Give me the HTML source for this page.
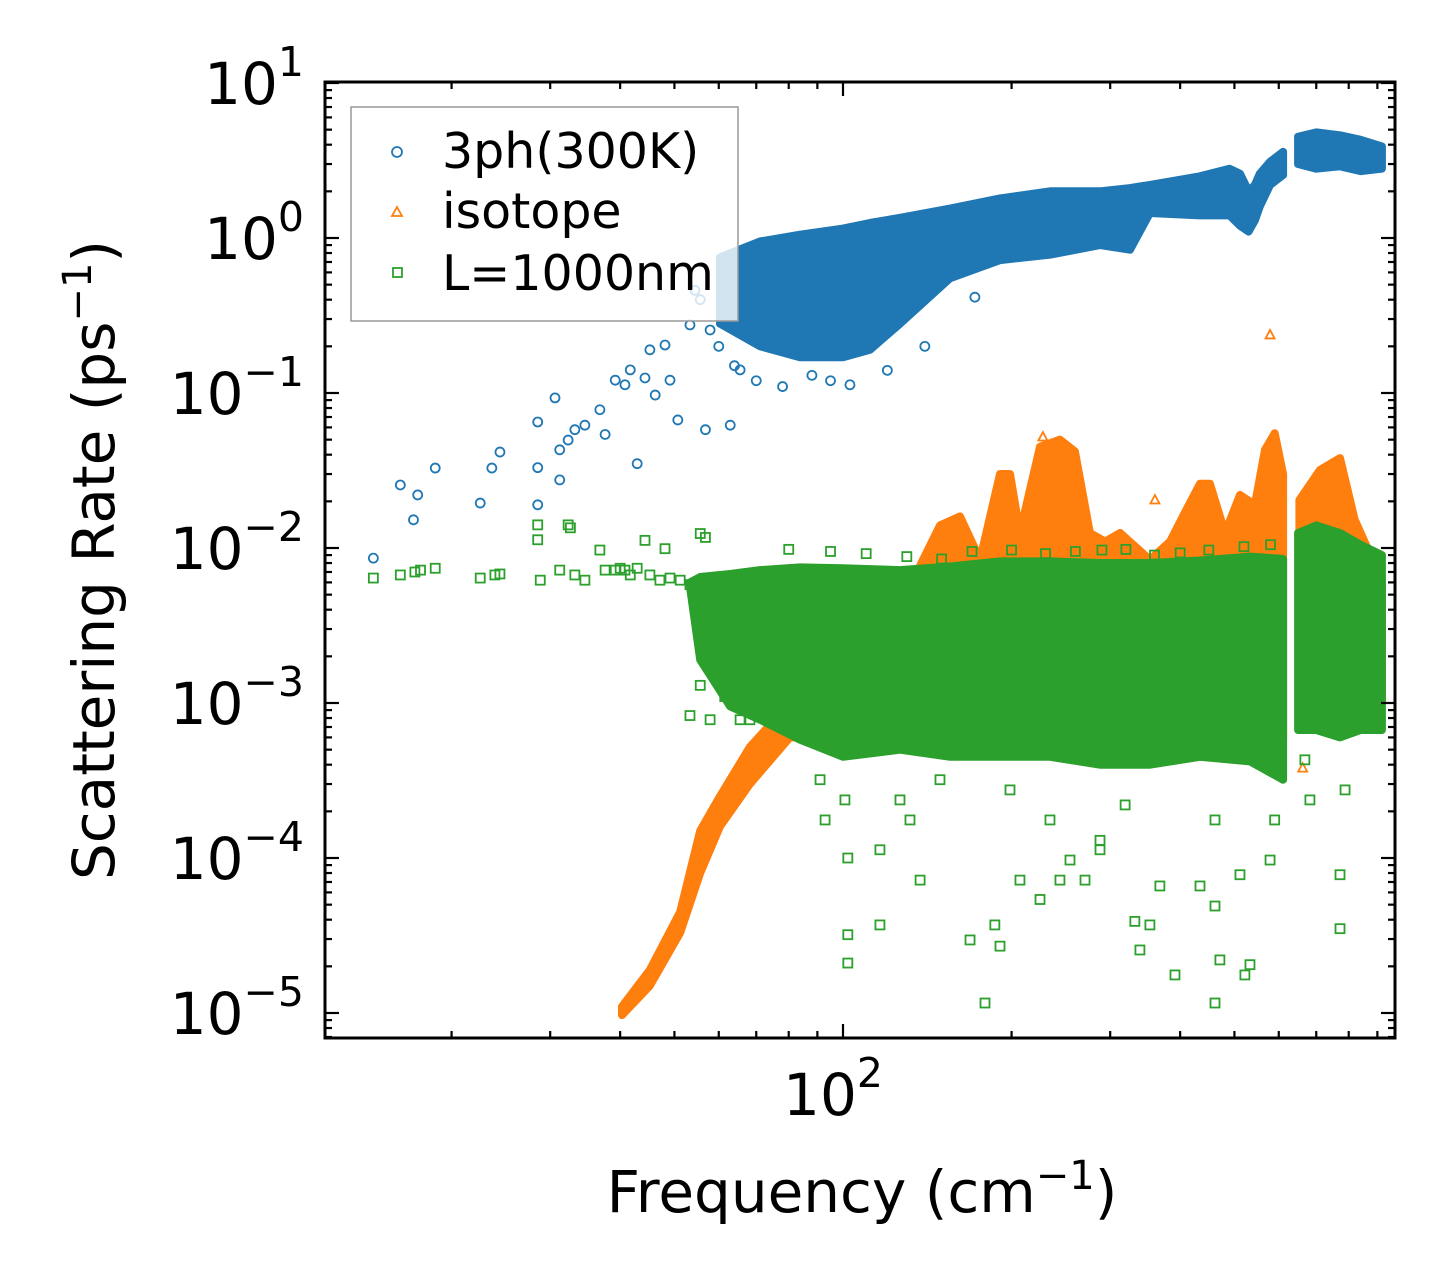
<!DOCTYPE html>
<html><head><meta charset="utf-8">
<style>
html,body{margin:0;padding:0;background:#fff;}
svg{display:block;font-family:"DejaVu Sans","Liberation Sans",sans-serif;}
</style></head>
<body>
<svg id="chart" width="1455" height="1288" viewBox="0 0 1455 1288" xmlns="http://www.w3.org/2000/svg">
<rect width="1455" height="1288" fill="#fff"/>
<g id="marks"></g>
<g id="axes"></g>
<text transform="translate(114,560) rotate(-90)" text-anchor="middle" font-size="58">Scattering Rate (ps<tspan dy="-23" font-size="40">−1</tspan><tspan dy="23">)</tspan></text>
<text x="862" y="1212" text-anchor="middle" font-size="58">Frequency (cm<tspan dy="-23" font-size="40">−1</tspan><tspan dy="23">)</tspan></text>
<g>
<rect x="351" y="107" width="387" height="214" fill="#fff" fill-opacity="0.8" stroke="#999" stroke-width="1.5"/>
<circle cx="397" cy="152" r="5" fill="none" stroke="#1f77b4" stroke-width="1.8"/>
<text x="442" y="168" font-size="49">3ph(300K)</text>
<path d="M397,207 L402,216 L392,216 Z" fill="none" stroke="#ff7f0e" stroke-width="1.8"/>
<text x="442" y="228" font-size="49">isotope</text>
<rect x="393" y="268" width="9" height="9" fill="none" stroke="#2ca02c" stroke-width="1.8"/>
<text x="442" y="290" font-size="49">L=1000nm</text>
</g>
</svg>
<script>
// ---- data ----
const blueFreq = [14.5,16.2,17.1,17.4,18.7,22.5,23.6,24.4,28.5,28.5,28.5,30.6,31.2,31.2,32.3,33.2,34.6,36.8,37.6,39.2,40.8,41.7,42.9,44.3,45.2,46.2,48.1,49.1,50.7,53.3,54.4,55.6,56.8,57.9,62.9,65.5,74.1,102.9,172,60,64,70,78,88,95,120,140,66,72];
const blueRate = [0.0086,0.0255,0.0152,0.022,0.0328,0.0195,0.0328,0.0416,0.033,0.065,0.019,0.093,0.043,0.0275,0.0497,0.058,0.062,0.078,0.054,0.121,0.113,0.141,0.035,0.125,0.19,0.097,0.204,0.121,0.067,0.275,0.46,0.40,0.058,0.255,0.062,0.141,0.415,0.113,0.415,0.2,0.15,0.12,0.11,0.13,0.12,0.14,0.2,0.3,0.7];
const blueBandFreq = [60.3,71.1,83.8,100,111.7,126.4,155.3,190.7,234.2,287.7,325.4,353.2,434,490,511.5,530,544,555,578.9,610.7];
const blueBandHi = [0.75,0.95,1.05,1.15,1.25,1.35,1.55,1.8,2.0,2.0,2.1,2.2,2.5,2.8,2.6,2.0,2.2,2.6,3.1,3.6];
const blueBandLo = [0.28,0.2,0.17,0.17,0.19,0.28,0.55,0.72,0.78,0.9,0.84,1.45,1.4,1.4,1.2,1.1,1.3,1.6,2.2,2.55];
const blueBand2Freq = [649.6,700,771.8,840,917];
const blueBand2Hi = [4.5,4.8,4.6,4.3,3.9];
const blueBand2Lo = [3.0,2.8,2.9,2.7,2.8];

const orangeBandFreq = [40.3,45.2,51.2,55.6,60.3,68.2,80.4,100,126.4,149,161.8,175.7,190.7,198.7,207,224.8,244,259.5,276,293.8,312.5,353.2,383.7,408,434,452,481,511.5,544,567,590,610.7];
const orangeBandHi = [1.1e-5,1.9e-5,4.5e-5,1.5e-4,2.5e-4,5.2e-4,0.001,0.0023,0.0042,0.014,0.016,0.0084,0.03,0.03,0.0125,0.045,0.05,0.042,0.0125,0.011,0.0125,0.0084,0.011,0.017,0.026,0.026,0.0125,0.022,0.019,0.043,0.055,0.03];
const orangeBandLo = [9.7e-6,1.5e-5,3.3e-5,8e-5,1.6e-4,3e-4,6e-4,6e-4,6e-4,6e-4,6e-4,6e-4,6e-4,6e-4,6e-4,6e-4,6e-4,6e-4,6e-4,6e-4,6e-4,6e-4,6e-4,6e-4,6e-4,6e-4,6e-4,6e-4,6e-4,6e-4,6e-4,6e-4];
const orangeBand2Freq = [653,711,771.8,820,917];
const orangeBand2Hi = [0.0204,0.0319,0.038,0.0152,0.0062];
const orangeBand2Lo = [0.00105,0.00105,0.00105,0.00105,0.00105];
const orangeFreq = [227.5,227.5,578.9,360.6,662];
const orangeRate = [0.052,0.0296,0.237,0.0204,3.8e-4];

const greenFreq = [14.5,16.2,17.2,17.6,18.7,22.5,23.9,24.4,28.5,28.5,28.8,31.2,32.3,32.6,33.2,34.6,36.8,37.6,39.2,40,40.8,41.7,42.9,44.3,45.2,47.1,48.1,49.1,51.2,53.3,55.6,56.8,56.8,57.9,59.1,60.3,61.5,65.5,66.8,53.3,55.6,57.9,68.2,
 91,92.9,100.8,102,102,102,116.4,116.4,126.4,131.7,137.3,149,168.6,179.3,186.7,190.7,198.7,207,224.8,234.2,244,254.3,270.5,287.7,287.7,319,332,339,353.2,368,391.6,434,461.6,461.6,461.6,471,511.5,522,533,578.9,590,668,682,771.8,771.8,788,
 80,95,110,130,150,170,200,230,260,290,320,360,400,450,520,580];
const greenRate = [0.0064,0.0067,0.007,0.0072,0.0074,0.0064,0.0067,0.0068,0.0113,0.0141,0.0062,0.0072,0.0141,0.0135,0.0067,0.0062,0.0097,0.0072,0.0072,0.0074,0.0072,0.0067,0.0074,0.0112,0.0067,0.0062,0.0099,0.0064,0.0062,0.0058,0.0124,0.0117,0.0027,0.0017,0.0023,0.0015,0.0011,0.00078,0.00105,0.00083,0.0013,0.00078,0.00078,
 3.2e-4,1.76e-4,2.37e-4,1.0e-4,3.2e-5,2.1e-5,1.13e-4,3.7e-5,2.37e-4,1.76e-4,7.2e-5,3.2e-4,2.96e-5,1.16e-5,3.7e-5,2.7e-5,2.75e-4,7.2e-5,5.4e-5,1.76e-4,7.2e-5,9.7e-5,7.2e-5,1.3e-4,1.13e-4,2.2e-4,3.9e-5,2.55e-5,3.7e-5,6.6e-5,1.76e-5,6.6e-5,1.76e-4,4.9e-5,1.16e-5,2.2e-5,7.8e-5,1.76e-5,2.05e-5,9.7e-5,1.76e-4,4.3e-4,2.37e-4,7.8e-5,3.5e-5,2.75e-4,
 0.0098,0.0095,0.0092,0.0088,0.0085,0.0095,0.0097,0.0092,0.0095,0.0097,0.0098,0.009,0.0093,0.0097,0.0102,0.0105];
const greenBandFreq = [53.3,55.6,62.9,71.1,83.8,100,126.4,155.3,190.7,234.2,287.7,353.2,434,533,610.7];
const greenBandHi = [0.006,0.0065,0.0068,0.0072,0.0075,0.0074,0.0072,0.0076,0.0082,0.0082,0.008,0.008,0.0083,0.0088,0.0085];
const greenBandLo = [0.0056,0.0019,0.00095,0.00078,0.00058,0.00045,0.0005,0.00045,0.00045,0.00045,0.0004,0.0004,0.00045,0.00042,0.00032];
const greenBand2Freq = [649.6,700,771.8,840,917];
const greenBand2Hi = [0.0125,0.014,0.0125,0.0105,0.009];
const greenBand2Lo = [0.00067,0.00067,0.0006,0.00067,0.00067];

const yTickExp = [1,0,-1,-2,-3,-4,-5];
const xTickExp = [2];

// ---- scales ----
const X0=325,X1=1395,Y0=82,Y1=1038;
function xs(f){return 843+560*(Math.log10(f)-2);}
function ys(r){return 238-155*Math.log10(r);}
const NS="http://www.w3.org/2000/svg";
const marks=document.getElementById('marks');
const axes=document.getElementById('axes');
function mk(tag,attrs,parent){const e=document.createElementNS(NS,tag);for(const k in attrs)e.setAttribute(k,attrs[k]);parent.appendChild(e);return e;}

const defs=mk('defs',{},marks);
const cp=mk('clipPath',{id:'clip'},defs);
mk('rect',{x:X0,y:Y0,width:X1-X0,height:Y1-Y0},cp);
const g=mk('g',{'clip-path':'url(#clip)'},marks);

function band(fr,hi,lo,color,name){
  let pts=[];
  for(let i=0;i<fr.length;i++)pts.push(xs(fr[i]).toFixed(1)+','+ys(hi[i]).toFixed(1));
  for(let i=fr.length-1;i>=0;i--)pts.push(xs(fr[i]).toFixed(1)+','+ys(lo[i]).toFixed(1));
  const p=mk('polygon',{points:pts.join(' '),fill:color,stroke:color,'stroke-width':8,'stroke-linejoin':'round'},g);
  
  
}
function circles(fr,rt){
  for(let i=0;i<fr.length;i++){
    const c=mk('circle',{cx:xs(fr[i]),cy:ys(rt[i]),r:4.5,fill:'none',stroke:'#1f77b4','stroke-width':1.8},g);
    
    
  }
}
function tris(fr,rt){
  for(let i=0;i<fr.length;i++){
    const x=xs(fr[i]),y=ys(rt[i]);
    const t=mk('path',{d:`M${x},${y-5} L${x+4.5},${y+3.5} L${x-4.5},${y+3.5} Z`,fill:'none',stroke:'#ff7f0e','stroke-width':1.8},g);
    
    
  }
}
function squares(fr,rt){
  for(let i=0;i<fr.length;i++){
    const s=mk('rect',{x:xs(fr[i])-4.5,y:ys(rt[i])-4.5,width:9,height:9,fill:'none',stroke:'#2ca02c','stroke-width':1.8},g);
    
    
  }
}
band(blueBandFreq,blueBandHi,blueBandLo,'#1f77b4','band-3ph');
band(blueBand2Freq,blueBand2Hi,blueBand2Lo,'#1f77b4','band-3ph-high');
circles(blueFreq,blueRate);
band(orangeBandFreq,orangeBandHi,orangeBandLo,'#ff7f0e','band-isotope');
band(orangeBand2Freq,orangeBand2Hi,orangeBand2Lo,'#ff7f0e','band-isotope-high');
tris(orangeFreq,orangeRate);
band(greenBandFreq,greenBandHi,greenBandLo,'#2ca02c','band-boundary');
band(greenBand2Freq,greenBand2Hi,greenBand2Lo,'#2ca02c','band-boundary-high');
squares(greenFreq,greenRate);

// ---- axes ----
mk('rect',{x:X0,y:Y0,width:X1-X0,height:Y1-Y0,fill:'none',stroke:'#000','stroke-width':3},axes);
function tick(x1,y1,x2,y2){mk('line',{x1,y1,x2,y2,stroke:'#000','stroke-width':2.2},axes);}
for(let e=-6;e<=1;e++){
  for(let m=1;m<=9;m++){
    const y=ys(m*Math.pow(10,e));
    if(y<Y0-0.5||y>Y1+0.5)continue;
    const L=m===1?14:7;
    tick(X0,y,X0+L,y);tick(X1,y,X1-L,y);
  }
}
yTickExp.forEach(e=>{
  const t=mk('text',{x:304,y:ys(Math.pow(10,e))+21,'text-anchor':'end','font-size':58},axes);
  
  
  t.innerHTML='10<tspan dy="-28" font-size="41">'+(e<0?'−'+(-e):e)+'</tspan>';
});
for(let e=1;e<=2;e++){
  for(let m=1;m<=9;m++){
    const x=xs(m*Math.pow(10,e));
    if(x<X0-0.5||x>X1+0.5)continue;
    const L=m===1?14:7;
    tick(x,Y1,x,Y1-L);tick(x,Y0,x,Y0+L);
  }
}
xTickExp.forEach(e=>{
  const t=mk('text',{x:xs(Math.pow(10,e))-10,y:1115,'text-anchor':'middle','font-size':58},axes);
  
  
  t.innerHTML='10<tspan dy="-28" font-size="41">'+e+'</tspan>';
});
</script>
</body></html>
